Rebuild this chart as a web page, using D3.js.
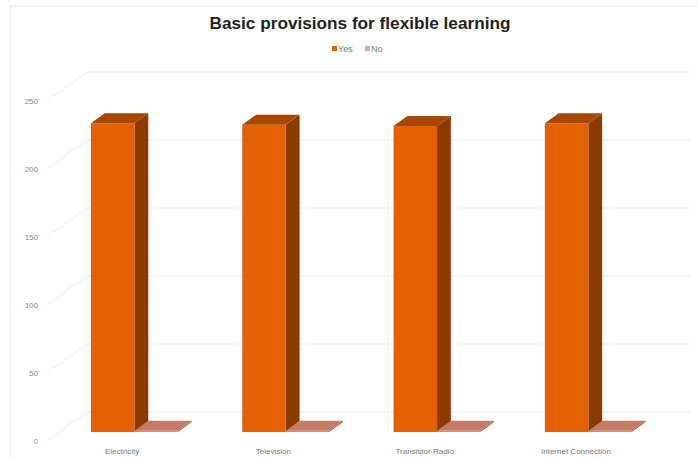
<!DOCTYPE html>
<html>
<head>
<meta charset="utf-8">
<script src="https://cdn.jsdelivr.net/npm/d3@7"></script>
<style>
  html, body { margin: 0; padding: 0; background: #fff; }
  svg { display: block; font-family: "Liberation Sans", Arial, sans-serif; }
</style>
</head>
<body>
<svg id="chart" width="698" height="459"></svg>
<script>
// Survey answers per provision
const categories = ["Electricity", "Television", "Transistor Radio", "Internet Connection"];
const seriesNames = ["Yes", "No"];
const yesValues = [227, 226, 225, 227];
const noValues = [1, 1, 1, 1];
const yTicks = [0, 50, 100, 150, 200, 250];

const colors = {
  Yes: { front: "#e36100", side: "#8c3b00", top: "#a94700", legend: "#e36100" },
  No:  { front: "#d98a74", side: "#a8614f", top: "#c77a66", legend: "#f4a088" }
};

const svg = d3.select("#chart");

// Chart frame
svg.append("line").attr("x1", 10).attr("x2", 10).attr("y1", 6).attr("y2", 459)
  .attr("stroke", "#e2e2e2");
svg.append("line").attr("x1", 10).attr("x2", 698).attr("y1", 6).attr("y2", 6)
  .attr("stroke", "#e2e2e2");

// Oblique 3D projection: depth 0 is the front plane, depth 1 the back wall
const depthDX = 40, depthDY = -29;
const y = d3.scaleLinear().domain([0, 250]).range([441, 101]);
const x0 = d3.scaleBand().domain(categories).range([48, 650])
  .paddingInner(0.425).paddingOuter(0.202);
const x1 = d3.scaleBand().domain(seriesNames).range([0, x0.bandwidth()]).padding(0);

const proj = (px, v, d) => [px + depthDX * d, y(v) + depthDY * d];
const poly = pts => pts.map(p => p.join(",")).join(" ");

// Title
svg.append("text").attr("x", 360).attr("y", 29).attr("text-anchor", "middle")
  .attr("font-size", 17.2).attr("font-weight", "bold").attr("fill", "#222")
  .text("Basic provisions for flexible learning");

// Legend
const legend = svg.append("g").attr("font-size", 9).attr("fill", "#777");
const legendItems = [{ name: "Yes", x: 332 }, { name: "No", x: 365 }];
legendItems.forEach(it => {
  legend.append("rect").attr("x", it.x).attr("y", 46).attr("width", 5).attr("height", 5)
    .attr("fill", colors[it.name].legend);
  legend.append("text").attr("x", it.x + 6).attr("y", 52).text(it.name);
});

// Gridlines on side wall and back wall
const grid = svg.append("g").attr("stroke", "#ebebeb").attr("fill", "none");
const wallLeft = 47, wallRight = 650;
yTicks.forEach(t => {
  const a = proj(wallLeft, t, 0), b = proj(wallLeft, t, 1), c = proj(wallRight, t, 1);
  grid.append("polyline").attr("points", poly([a, b, c]));
});

// Value axis labels
svg.append("g").attr("font-size", 8).attr("fill", "#888").attr("text-anchor", "end")
  .selectAll("text").data(yTicks).join("text")
  .attr("x", 38).attr("y", d => y(d) + 3).text(d => d);

// Bars
const dFront = 0.31, dBack = 0.655;
const rows = categories.map((c, i) => ({ cat: c, values: [
  { key: "Yes", v: yesValues[i] }, { key: "No", v: noValues[i] }
]}));

const barLayer = svg.append("g");
rows.forEach(r => {
  r.values.forEach(s => {
    const l = x0(r.cat) + x1(s.key), rgt = l + x1.bandwidth();
    const col = colors[s.key];
    const g = barLayer.append("g");
    g.append("polygon").attr("fill", col.side).attr("points", poly([
      proj(rgt, 0, dFront), proj(rgt, 0, dBack), proj(rgt, s.v, dBack), proj(rgt, s.v, dFront)
    ]));
    g.append("polygon").attr("fill", col.front).attr("points", poly([
      proj(l, 0, dFront), proj(rgt, 0, dFront), proj(rgt, s.v, dFront), proj(l, s.v, dFront)
    ]));
    g.append("polygon").attr("fill", col.top).attr("points", poly([
      proj(l, s.v, dFront), proj(rgt, s.v, dFront), proj(rgt, s.v, dBack), proj(l, s.v, dBack)
    ]));
  });
});

// Category labels
svg.append("g").attr("font-size", 8).attr("fill", "#777").attr("text-anchor", "middle")
  .selectAll("text").data(categories).join("text")
  .attr("x", d => x0(d) + x0.bandwidth() / 2).attr("y", 454).text(d => d);
</script>
</body>
</html>
